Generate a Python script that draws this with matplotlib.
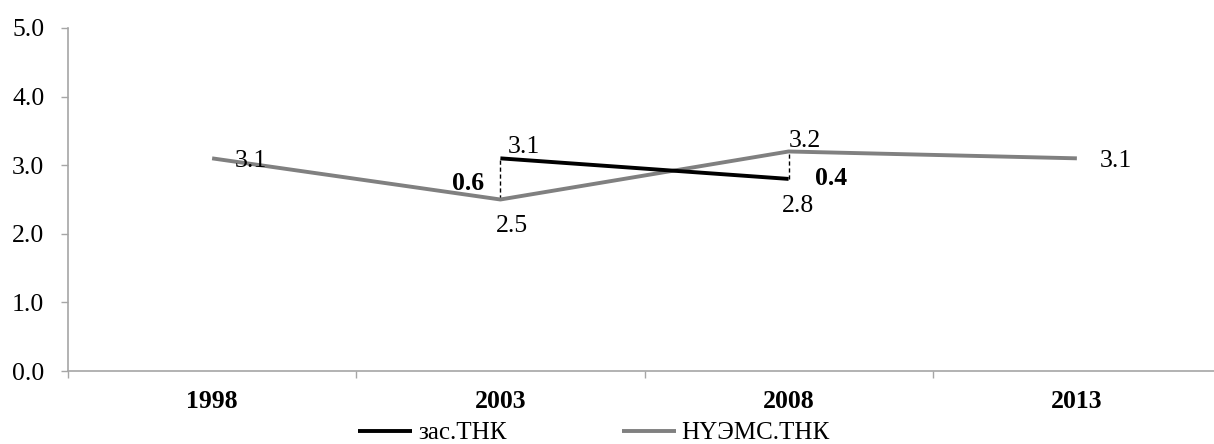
import matplotlib
matplotlib.use("Agg")
import matplotlib.pyplot as plt
import numpy as np

plt.rcParams['font.family'] = ['Liberation Serif', 'DejaVu Serif']

years = ["1998", "2003", "2008", "2013"]
zas_thk = [np.nan, 3.1, 2.8, np.nan]
nuems_thk = [3.1, 2.5, 3.2, 3.1]
diff_labels = ["0.6", "0.4"]
series_names = ["зас.ТНК", "НҮЭМС.ТНК"]
yticks = [0.0, 1.0, 2.0, 3.0, 4.0, 5.0]

W, H = 1214, 444
fig = plt.figure(figsize=(W / 100, H / 100), dpi=100)
left, right, bottom, top = 68, 1221, 371, 28
ax = fig.add_axes([left / W, (H - bottom) / H, (right - left) / W, (bottom - top) / H])

x = np.arange(len(years))
fs = 18.5
axis_color = "#a6a6a6"
gray = "#808080"

l1, = ax.plot(x, zas_thk, color="black", lw=2.8, solid_capstyle="butt", label=series_names[0], zorder=3)
l2, = ax.plot(x, nuems_thk, color=gray, lw=2.8, solid_capstyle="butt", label=series_names[1], zorder=2)

# dashed connectors
ax.plot([x[1], x[1]], [nuems_thk[1], zas_thk[1]], ls=(0, (3, 2)), color="black", lw=1, zorder=1)
ax.plot([x[2], x[2]], [zas_thk[2], nuems_thk[2]], ls=(0, (3, 2)), color="black", lw=1, zorder=1)

def lab(text, xy, off, ha="left", bold=False):
    ax.annotate(text, xy, xytext=off, textcoords="offset points", ha=ha, va="baseline",
                fontsize=fs, fontweight="bold" if bold else "normal", zorder=5)

# data labels
lab(f"{nuems_thk[0]:.1f}", (x[0], nuems_thk[0]), (16.5, -6.5))
lab(f"{nuems_thk[1]:.1f}", (x[1], nuems_thk[1]), (-3, -23.4))
lab(f"{nuems_thk[2]:.1f}", (x[2], nuems_thk[2]), (0, 3.2))
lab(f"{nuems_thk[3]:.1f}", (x[3], nuems_thk[3]), (16.5, -6.5))
lab(f"{zas_thk[1]:.1f}", (x[1], zas_thk[1]), (5, 3.6))
lab(f"{zas_thk[2]:.1f}", (x[2], zas_thk[2]), (-5, -23.8))
lab(diff_labels[0], (x[1], (nuems_thk[1] + zas_thk[1]) / 2), (-11.5, -8), ha="right", bold=True)
lab(diff_labels[1], (x[2], (zas_thk[2] + nuems_thk[2]) / 2), (18.7, -14.4), bold=True)

ax.set_xlim(-0.5, len(years) - 0.5)
ax.set_ylim(0, 5)
ax.set_yticks(yticks)
ax.set_yticklabels([f"{v:.1f}" for v in yticks], fontsize=fs)
ax.set_xticks(x)
ax.set_xticklabels(years, fontsize=fs, fontweight="bold")
ax.set_xticks(np.arange(len(years)) - 0.5, minor=True)
ax.tick_params(axis="x", which="major", length=0, pad=14)
ax.tick_params(axis="x", which="minor", length=5, color=axis_color, width=1)
ax.tick_params(axis="y", length=5, color=axis_color, width=1, pad=12)

for s in ["top", "right"]:
    ax.spines[s].set_visible(False)
for s in ["left", "bottom"]:
    ax.spines[s].set_color(axis_color)
    ax.spines[s].set_linewidth(1.2)

fig.legend(handles=[l1, l2], loc="center left", bbox_to_anchor=(358 / W, (H - 433) / H), ncol=2,
           frameon=False, fontsize=18, handlelength=2.16, handletextpad=0.24, columnspacing=4.6,
           borderpad=0, borderaxespad=0)

fig.savefig("out.png", dpi=100)
